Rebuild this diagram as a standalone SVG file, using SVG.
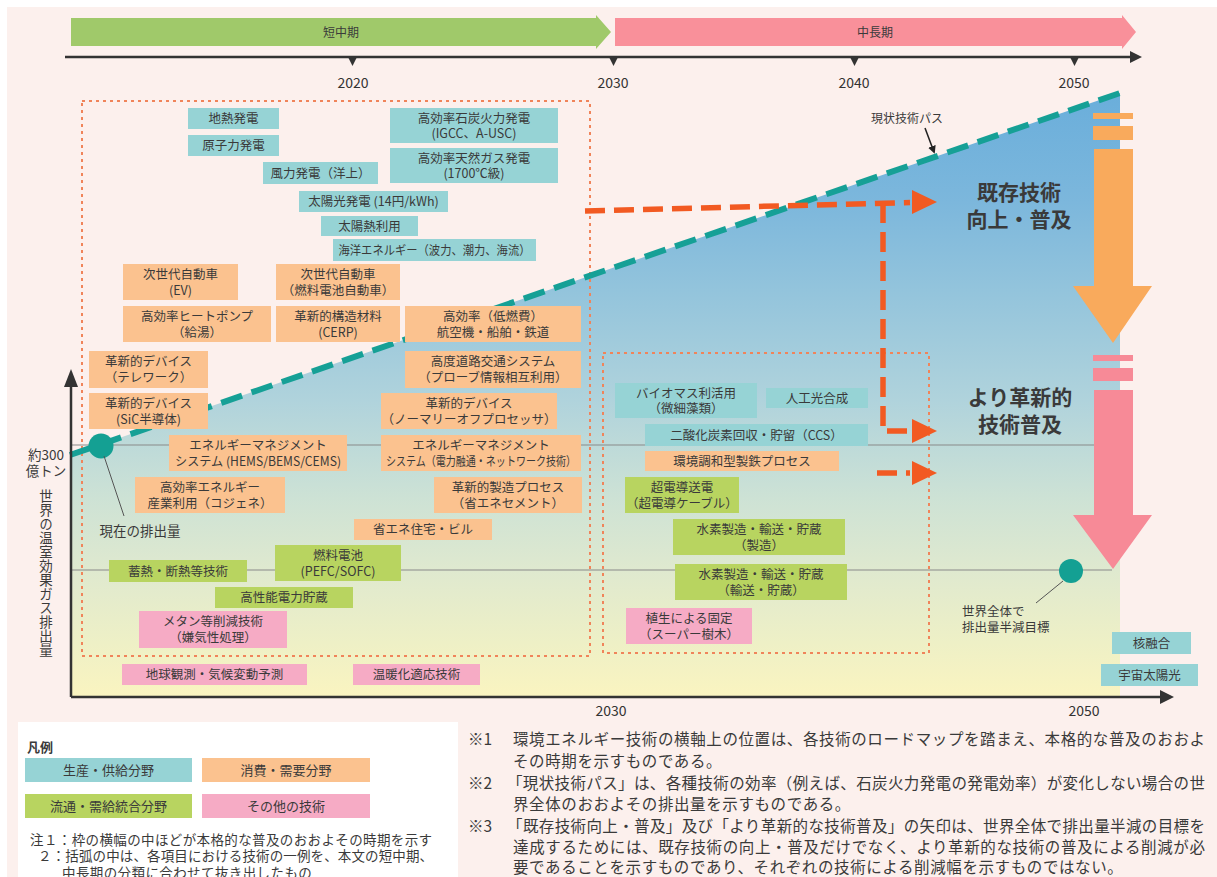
<svg xmlns="http://www.w3.org/2000/svg" width="1217" height="877" viewBox="0 0 1217 877">
<style>
text{font-family:"Noto Sans CJK JP","Noto Sans",sans-serif;fill:#3a3a3a}
.bt{font-size:12.5px;text-anchor:middle}
.yr{font-size:14px;text-anchor:middle;fill:#333}
.t{fill:#96d3d5}.o{fill:#fbc28f}.g{fill:#b8d460}.p{fill:#f6abc5}
.ax{stroke:#333;stroke-width:2.5;fill:none}
.hl{stroke:#8a8a8a;stroke-width:1.2}
.dot{fill:none;stroke:#f0845a;stroke-width:2;stroke-dasharray:3 4}
.rd{fill:none;stroke:#f25a22;stroke-width:5.5;stroke-dasharray:20 9}
.rh{fill:#f25a22}
.big{font-size:21px;font-weight:bold;text-anchor:middle;fill:#3a3a3a}
.nt{font-size:15.5px}
.lg{font-size:13px;text-anchor:middle}
.sm{font-size:13.5px}
</style>
<defs>
<linearGradient id="fillg" x1="0" y1="93" x2="0" y2="697" gradientUnits="userSpaceOnUse">
<stop offset="0" stop-color="#6aaedb"/>
<stop offset="0.18" stop-color="#7cb7dc"/>
<stop offset="0.34" stop-color="#95c5dc"/>
<stop offset="0.51" stop-color="#b0d3dc"/>
<stop offset="0.67" stop-color="#cde2d5"/>
<stop offset="0.79" stop-color="#dfe9cf"/>
<stop offset="0.91" stop-color="#eef0c6"/>
<stop offset="1" stop-color="#faf4c0"/>
</linearGradient>
<marker id="blk" markerWidth="8" markerHeight="8" refX="6" refY="4" orient="auto" markerUnits="userSpaceOnUse"><path d="M0,0 L8,4 L0,8 z" fill="#222"/></marker>
</defs>
<rect width="1217" height="877" fill="#ffffff"/>
<rect x="7" y="7" width="1210" height="870" fill="#fcf0ed"/>

<g id="timeline">
<polygon points="71,18 596,18 596,15 611,32 596,49 596,46 71,46" fill="#a0c96a"/>
<text x="341" y="37" font-size="12" text-anchor="middle" fill="#444">短中期</text>
<polygon points="615,18 1122,18 1122,15 1136,32 1122,49 1122,46 615,46" fill="#f9909a"/>
<text x="875" y="37" font-size="12" text-anchor="middle" fill="#444">中長期</text>
<line x1="65" y1="57" x2="1132" y2="57" class="ax" stroke-width="2"/>
<polygon points="1130,51 1142,57 1130,63" fill="#333"/>
<polygon points="348,57 357,57 352.5,66" fill="#333"/>
<polygon points="609,57 618,57 613.5,66" fill="#333"/>
<polygon points="850,57 859,57 854.5,66" fill="#333"/>
<polygon points="1070,57 1079,57 1074.5,66" fill="#333"/>
<text x="353" y="88" class="yr">2020</text>
<text x="613" y="88" class="yr">2030</text>
<text x="854" y="88" class="yr">2040</text>
<text x="1074" y="88" class="yr">2050</text>
</g>

<g id="chart-area">
<polygon points="70,455 1120,93 1120,697 70,697" fill="url(#fillg)"/>
<line x1="70" y1="445" x2="1095" y2="445" class="hl"/>
<line x1="70" y1="570" x2="1112" y2="570" class="hl"/>
<rect x="82" y="101" width="508" height="555" class="dot"/>
<rect x="603" y="353" width="326" height="300" class="dot"/>
<line x1="70" y1="455" x2="1120" y2="93" stroke="#16a096" stroke-width="6" stroke-dasharray="22 10"/>
</g>

<g id="axes">
<line x1="71" y1="697" x2="71" y2="385" class="ax"/>
<polygon points="64,387 71,369 78,387" fill="#333"/>
<line x1="71" y1="697" x2="1162" y2="697" class="ax"/>
<polygon points="1160,690 1174,697 1160,704" fill="#333"/>
<text x="611" y="716" class="yr">2030</text>
<text x="1084" y="716" class="yr">2050</text>
<text x="46" y="460" font-size="13.5" text-anchor="middle">約300</text>
<text x="46" y="476" font-size="13.5" text-anchor="middle">億トン</text>
<text x="46" y="489" font-size="13.5" style="writing-mode:vertical-rl" letter-spacing="0.5">世界の温室効果ガス排出量</text>
</g>

<g id="arrow-existing">
<rect x="1093" y="113" width="40" height="6" fill="#f9aa5c"/>
<rect x="1093" y="126" width="40" height="14" fill="#f9aa5c"/>
<polygon points="1094,149 1133,149 1133,286 1152,286 1113,343 1073,286 1094,286" fill="#f9aa5c"/>
<text x="1019" y="200" class="big">既存技術</text>
<text x="1019" y="227" class="big">向上・普及</text>
</g>
<g id="arrow-innovative">
<rect x="1093" y="355" width="40" height="6" fill="#f78a97"/>
<rect x="1093" y="368" width="40" height="13" fill="#f78a97"/>
<polygon points="1094,390 1133,390 1133,515 1152,515 1113,569 1073,515 1094,515" fill="#f78a97"/>
<text x="1020" y="405" class="big">より革新的</text>
<text x="1020" y="432" class="big">技術普及</text>
</g>

<g id="current-emission">
<circle cx="101" cy="446" r="12.5" fill="#14a093"/>
<text x="140" y="536" class="sm" text-anchor="middle">現在の排出量</text>
</g>
<g id="target">
<circle cx="1071" cy="571" r="12" fill="#14a093"/>
<text x="962" y="616" font-size="12.5">世界全体で</text>
<text x="962" y="632" font-size="12.5">排出量半減目標</text>
</g>
<g id="path-label">
<text x="907" y="123" font-size="12" text-anchor="middle">現状技術パス</text>
</g>

<g id="connectors">
<line x1="104" y1="456" x2="124" y2="516" stroke="#555" stroke-width="1"/>
<line x1="1063" y1="581" x2="1036" y2="603" stroke="#555" stroke-width="1"/>
<line x1="925" y1="128" x2="934" y2="152" stroke="#222" stroke-width="1.5" marker-end="url(#blk)"/>
<path d="M585,211 L910,202.5" class="rd"/>
<polygon points="912,190 937,202 912,214" class="rh"/>
<path d="M883,203 L883,431 L910,431" class="rd"/>
<polygon points="912,419 937,431 912,443" class="rh"/>
<path d="M877,473 L910,473" class="rd"/>
<polygon points="912,461 937,473 912,485" class="rh"/>
</g>

<g id="n-chinetsu"><rect x="188" y="108" width="91" height="21" class="t"/><text x="233.5" y="123" class="bt">地熱発電</text></g>
<g id="n-genshiryoku"><rect x="188" y="135" width="91" height="21" class="t"/><text x="233.5" y="150" class="bt">原子力発電</text></g>
<g id="n-coal"><rect x="390" y="108" width="168" height="35" class="t"/><text x="474" y="122.5" class="bt">高効率石炭火力発電</text><text x="474" y="138" class="bt">(IGCC、A-USC)</text></g>
<g id="n-gas"><rect x="390" y="148" width="168" height="35" class="t"/><text x="474" y="162.5" class="bt">高効率天然ガス発電</text><text x="474" y="178" class="bt">(1700℃級)</text></g>
<g id="n-wind"><rect x="263" y="162" width="115" height="22" class="t"/><text x="320.5" y="177.5" class="bt">風力発電（洋上）</text></g>
<g id="n-pv"><rect x="299" y="191" width="149" height="21" class="t"/><text x="373.5" y="206" class="bt">太陽光発電 (14円/kWh)</text></g>
<g id="n-solarheat"><rect x="321" y="216" width="97" height="20" class="t"/><text x="369.5" y="230.5" class="bt">太陽熱利用</text></g>
<g id="n-ocean"><rect x="333" y="239" width="203" height="22" class="t"/><text x="434.5" y="254.5" class="bt" textLength="192" lengthAdjust="spacingAndGlyphs">海洋エネルギー（波力、潮力、海流）</text></g>

<g id="n-ev"><rect x="123" y="264" width="115" height="36" class="o"/><text x="180.5" y="279" class="bt">次世代自動車</text><text x="180.5" y="294.5" class="bt">(EV)</text></g>
<g id="n-fcv"><rect x="276" y="264" width="124" height="36" class="o"/><text x="338" y="279" class="bt">次世代自動車</text><text x="338" y="294.5" class="bt">（燃料電池自動車）</text></g>
<g id="n-heatpump"><rect x="123" y="306" width="148" height="36" class="o"/><text x="197" y="321" class="bt">高効率ヒートポンプ</text><text x="197" y="336.5" class="bt">（給湯）</text></g>
<g id="n-material"><rect x="276" y="306" width="124" height="36" class="o"/><text x="338" y="321" class="bt">革新的構造材料</text><text x="338" y="336.5" class="bt">(CERP)</text></g>
<g id="n-transport"><rect x="405" y="306" width="176" height="36" class="o"/><text x="493" y="321" class="bt">高効率（低燃費）</text><text x="493" y="336.5" class="bt">航空機・船舶・鉄道</text></g>
<g id="n-telework"><rect x="89" y="351" width="119" height="37" class="o"/><text x="148.5" y="366" class="bt">革新的デバイス</text><text x="148.5" y="382" class="bt">（テレワーク）</text></g>
<g id="n-its"><rect x="405" y="351" width="176" height="37" class="o"/><text x="493" y="366" class="bt">高度道路交通システム</text><text x="493" y="382" class="bt">（プローブ情報相互利用）</text></g>
<g id="n-sic"><rect x="89" y="393" width="119" height="36" class="o"/><text x="148.5" y="408" class="bt">革新的デバイス</text><text x="148.5" y="423.5" class="bt">(SiC半導体)</text></g>
<g id="n-normallyoff"><rect x="381" y="393" width="176" height="36" class="o"/><text x="469" y="408" class="bt">革新的デバイス</text><text x="469" y="423.5" class="bt">（ノーマリーオフプロセッサ）</text></g>
<g id="n-ems1"><rect x="169" y="435" width="178" height="36" class="o"/><text x="258" y="450" class="bt">エネルギーマネジメント</text><text x="258" y="465.5" class="bt" textLength="166" lengthAdjust="spacingAndGlyphs">システム (HEMS/BEMS/CEMS)</text></g>
<g id="n-ems2"><rect x="381" y="435" width="200" height="36" class="o"/><text x="481" y="450" class="bt">エネルギーマネジメント</text><text x="481" y="465.5" class="bt" textLength="190" lengthAdjust="spacingAndGlyphs">システム（電力融通・ネットワーク技術）</text></g>
<g id="n-cogen"><rect x="135" y="477" width="150" height="36" class="o"/><text x="210" y="492" class="bt">高効率エネルギー</text><text x="210" y="507.5" class="bt">産業利用（コジェネ）</text></g>
<g id="n-cement"><rect x="434" y="477" width="148" height="36" class="o"/><text x="508" y="492" class="bt">革新的製造プロセス</text><text x="508" y="507.5" class="bt">（省エネセメント）</text></g>
<g id="n-house"><rect x="354" y="519" width="138" height="21" class="o"/><text x="423" y="534" class="bt">省エネ住宅・ビル</text></g>
<g id="n-steel"><rect x="645" y="451" width="194" height="20" class="o"/><text x="742" y="465.5" class="bt">環境調和型製鉄プロセス</text></g>

<g id="n-heatstorage"><rect x="109" y="560" width="138" height="22" class="g"/><text x="178" y="575.5" class="bt">蓄熱・断熱等技術</text></g>
<g id="n-fuelcell"><rect x="275" y="545" width="126" height="36" class="g"/><text x="338" y="560" class="bt">燃料電池</text><text x="338" y="575.5" class="bt">(PEFC/SOFC)</text></g>
<g id="n-battery"><rect x="215" y="587" width="138" height="21" class="g"/><text x="284" y="602" class="bt">高性能電力貯蔵</text></g>
<g id="n-superconduct"><rect x="625" y="477" width="114" height="36" class="g"/><text x="682" y="492" class="bt">超電導送電</text><text x="682" y="507.5" class="bt">（超電導ケーブル）</text></g>
<g id="n-h2prod"><rect x="673" y="519" width="172" height="36" class="g"/><text x="759" y="534" class="bt">水素製造・輸送・貯蔵</text><text x="759" y="549.5" class="bt">（製造）</text></g>
<g id="n-h2trans"><rect x="675" y="564" width="172" height="36" class="g"/><text x="761" y="579" class="bt">水素製造・輸送・貯蔵</text><text x="761" y="594.5" class="bt">（輸送・貯蔵）</text></g>

<g id="n-methane"><rect x="139" y="611" width="148" height="37" class="p"/><text x="213" y="626" class="bt">メタン等削減技術</text><text x="213" y="642" class="bt">（嫌気性処理）</text></g>
<g id="n-earthobs"><rect x="122" y="664" width="185" height="21" class="p"/><text x="214.5" y="679" class="bt">地球観測・気候変動予測</text></g>
<g id="n-adapt"><rect x="353" y="664" width="127" height="21" class="p"/><text x="416.5" y="679" class="bt">温暖化適応技術</text></g>
<g id="n-vegetation"><rect x="626" y="608" width="126" height="36" class="p"/><text x="689" y="623" class="bt">植生による固定</text><text x="689" y="638.5" class="bt">（スーパー樹木）</text></g>

<g id="n-biomass"><rect x="615" y="383" width="142" height="35" class="t"/><text x="686" y="397.5" class="bt">バイオマス利活用</text><text x="686" y="413" class="bt">（微細藻類）</text></g>
<g id="n-photosynth"><rect x="766" y="388" width="102" height="20" class="t"/><text x="817" y="402.5" class="bt">人工光合成</text></g>
<g id="n-ccs"><rect x="645" y="424" width="223" height="22" class="t"/><text x="756.5" y="439.5" class="bt">二酸化炭素回収・貯留（CCS）</text></g>
<g id="n-fusion"><rect x="1112" y="632" width="79" height="22" class="t"/><text x="1151.5" y="647.5" class="bt">核融合</text></g>
<g id="n-spacepv"><rect x="1101" y="664" width="97" height="22" class="t"/><text x="1149.5" y="679.5" class="bt">宇宙太陽光</text></g>

<g id="legend">
<rect x="18" y="722" width="440" height="155" fill="#ffffff"/>
<text x="27" y="752" font-size="13" font-weight="bold">凡例</text>
<rect x="25" y="758" width="167" height="24" class="t"/><text x="108.5" y="775" class="lg">生産・供給分野</text>
<rect x="202" y="758" width="168" height="24" class="o"/><text x="286" y="775" class="lg">消費・需要分野</text>
<rect x="25" y="794" width="167" height="24" class="g"/><text x="108.5" y="811" class="lg">流通・需給統合分野</text>
<rect x="202" y="794" width="168" height="24" class="p"/><text x="286" y="811" class="lg">その他の技術</text>
<text x="30" y="845" font-size="13.5" textLength="402" lengthAdjust="spacing">注１：枠の横幅の中ほどが本格的な普及のおおよその時期を示す</text>
<text x="38" y="861" font-size="13.5" textLength="395" lengthAdjust="spacing">２：括弧の中は、各項目における技術の一例を、本文の短中期、</text>
<text x="62" y="878" font-size="13.5" letter-spacing="0.4">中長期の分類に合わせて抜き出したもの</text>
</g>

<g id="notes">
<text x="468" y="745" class="nt">※1</text>
<text x="513" y="745" class="nt" textLength="692" lengthAdjust="spacing">環境エネルギー技術の横軸上の位置は、各技術のロードマップを踏まえ、本格的な普及のおおよ</text>
<text x="513" y="767" class="nt" letter-spacing="0.6">その時期を示すものである。</text>
<text x="468" y="789" class="nt">※2</text>
<text x="507" y="789" class="nt" textLength="698" lengthAdjust="spacing">「現状技術パス」は、各種技術の効率（例えば、石炭火力発電の発電効率）が変化しない場合の世</text>
<text x="513" y="810" class="nt" letter-spacing="0.6">界全体のおおよその排出量を示すものである。</text>
<text x="468" y="832" class="nt">※3</text>
<text x="507" y="832" class="nt" textLength="698" lengthAdjust="spacing">「既存技術向上・普及」及び「より革新的な技術普及」の矢印は、世界全体で排出量半減の目標を</text>
<text x="513" y="853" class="nt" textLength="692" lengthAdjust="spacing">達成するためには、既存技術の向上・普及だけでなく、より革新的な技術の普及による削減が必</text>
<text x="513" y="873" class="nt" letter-spacing="0.6">要であることを示すものであり、それぞれの技術による削減幅を示すものではない。</text>
</g>
</svg>
